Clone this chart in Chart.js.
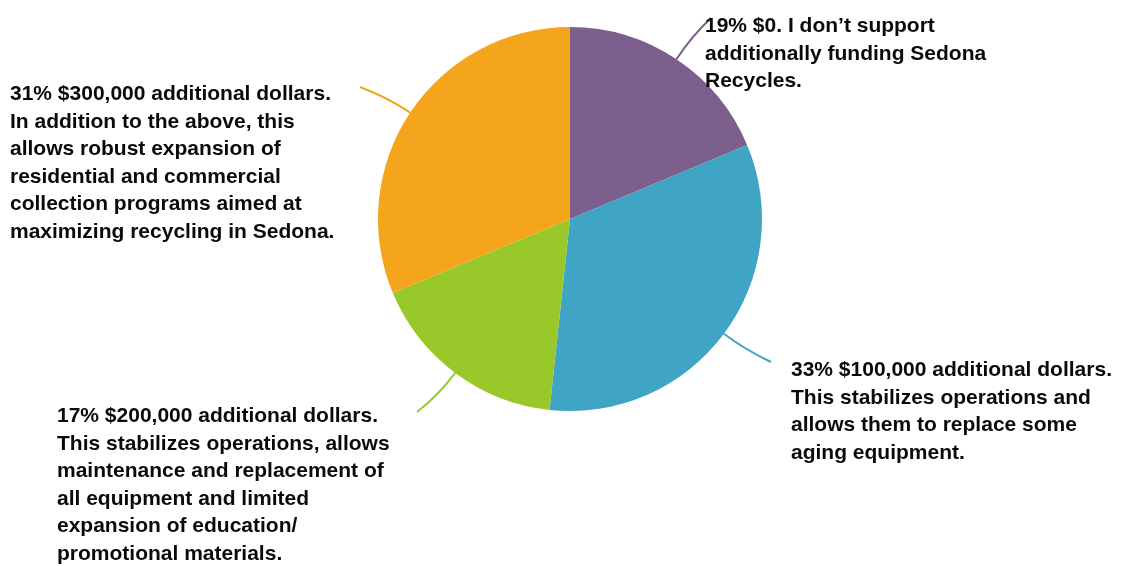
<!DOCTYPE html>
<html lang="en">
<head>
<meta charset="UTF-8">
<title>Sedona Recycles funding</title>
<script src="https://cdn.jsdelivr.net/npm/chart.js"></script>
<style>
    body { margin: 0; background: #ffffff; }
    .wrap { width: 1125px; height: 566px; }
</style>
</head>
<body>
<div class="wrap"><canvas id="pie" width="1125" height="566"></canvas></div>
<script>
// data
const categories = [
    '$0. I don\u2019t support additionally funding Sedona Recycles.',
    '$100,000 additional dollars. This stabilizes operations and allows them to replace some aging equipment.',
    '$200,000 additional dollars. This stabilizes operations, allows maintenance and replacement of all equipment and limited expansion of education/ promotional materials.',
    '$300,000 additional dollars. In addition to the above, this allows robust expansion of residential and commercial collection programs aimed at maximizing recycling in Sedona.'
];
// slice sizes measured from the slice edges (labels show them rounded)
const shares = [18.7, 33.0, 17.0, 31.3];
const sliceColors = ['#7d5f8e', '#40a4c4', '#98c829', '#f4a51c'];

// wrapped label lines as in the picture
const labelLines = [
    ['19% $0. I don\u2019t support', 'additionally funding Sedona', 'Recycles.'],
    ['33% $100,000 additional dollars.', 'This stabilizes operations and', 'allows them to replace some', 'aging equipment.'],
    ['17% $200,000 additional dollars.', 'This stabilizes operations, allows', 'maintenance and replacement of', 'all equipment and limited', 'expansion of education/', 'promotional materials.'],
    ['31% $300,000 additional dollars.', 'In addition to the above, this', 'allows robust expansion of', 'residential and commercial', 'collection programs aimed at', 'maximizing recycling in Sedona.']
];

// leader line end, text anchor (x, first baseline)
const labelPlaces = [
    { end: [711, 18], text: [705, 32] },
    { end: [771, 362], text: [791, 376] },
    { end: [417, 412], text: [57, 422] },
    { end: [360, 87], text: [10, 100] }
];

const calloutPlugin = {
    id: 'callouts',
    afterDatasetsDraw(chart) {
        const ctx = chart.ctx;
        const meta = chart.getDatasetMeta(0);
        ctx.save();
        meta.data.forEach((arc, i) => {
            const mid = (arc.startAngle + arc.endAngle) / 2;
            const r = arc.outerRadius;
            const sx = arc.x + Math.cos(mid) * r;
            const sy = arc.y + Math.sin(mid) * r;
            const cx = arc.x + Math.cos(mid) * (r + 28);
            const cy = arc.y + Math.sin(mid) * (r + 28);
            const p = labelPlaces[i];
            ctx.strokeStyle = sliceColors[i];
            ctx.lineWidth = 2;
            ctx.beginPath();
            ctx.moveTo(sx, sy);
            ctx.quadraticCurveTo(cx, cy, p.end[0], p.end[1]);
            ctx.stroke();

            ctx.fillStyle = '#0a0a0a';
            ctx.font = 'bold 21px "Liberation Sans", Arial, sans-serif';
            ctx.textAlign = 'left';
            ctx.textBaseline = 'alphabetic';
            labelLines[i].forEach((line, k) => {
                ctx.fillText(line, p.text[0], p.text[1] + k * 27.5);
            });
        });
        ctx.restore();
    }
};

new Chart(document.getElementById('pie'), {
    type: 'pie',
    data: {
        labels: categories,
        datasets: [{
            data: shares,
            backgroundColor: sliceColors,
            borderWidth: 0
        }]
    },
    options: {
        responsive: false,
        animation: false,
        layout: { padding: { left: 378, right: 363, top: 27, bottom: 155 } },
        plugins: {
            legend: { display: false },
            tooltip: { enabled: false }
        }
    },
    plugins: [calloutPlugin]
});
</script>
</body>
</html>
